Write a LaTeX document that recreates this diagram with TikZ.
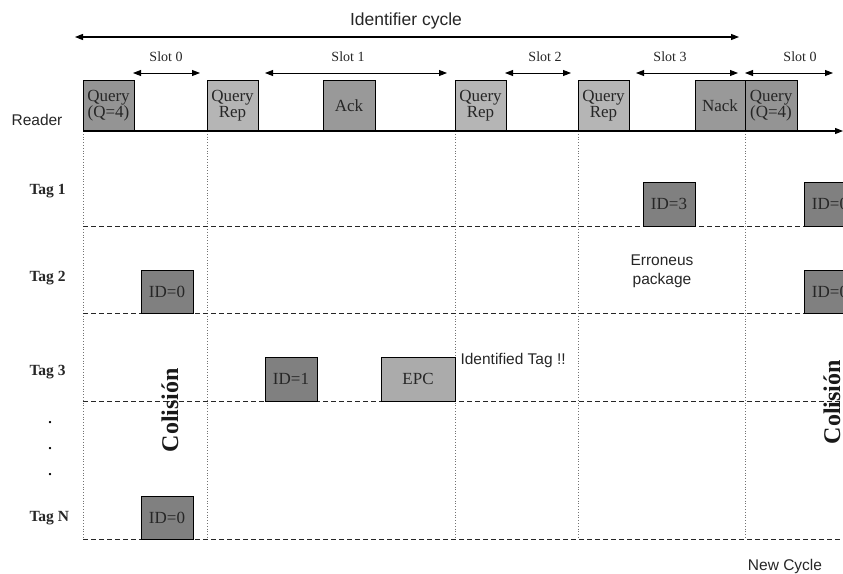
\documentclass[tikz,border=0pt]{standalone}
\usepackage{fontspec}
\setmainfont{Liberation Serif}
\newfontfamily\arialf{Liberation Sans}
\usetikzlibrary{arrows.meta}
\begin{document}
\begin{tikzpicture}[x=1pt,y=-1pt,
  tip/.style={-{Triangle[length=8pt,width=6pt]}},
  dtip/.style={{Triangle[length=8pt,width=6pt]}-{Triangle[length=8pt,width=6pt]}, line width=0.9pt},
  msgbox/.style={draw, line width=0.9pt, inner sep=0pt, align=center, text=black!85, font=\fontsize{17}{16}\selectfont},
  dark/.style={msgbox, fill=black!42},
  light/.style={msgbox, fill=black!29},
  tex/.style={msgbox, fill=black!40},
  idbox/.style={msgbox, fill=black!50, minimum width=52pt, minimum height=44pt},
  sans/.style={text=black!85, font=\arialf\fontsize{15.5}{19}\selectfont},
  slotlab/.style={text=black!85, font=\fontsize{14}{14}\selectfont},
  taglab/.style={text=black!85, font=\bfseries\fontsize{15.5}{16}\selectfont},
  coll/.style={text=black!90, font=\bfseries\fontsize{24}{24}\selectfont, rotate=90},
  vgrid/.style={draw=black!55, dotted, line width=0.8pt},
  hgrid/.style={draw=black!85, dash pattern=on 5pt off 3pt, line width=0.9pt}
]
\useasboundingbox (0,0) rectangle (843,573);

% grid
\foreach \x/\n in {83/a,207/b,455/c,578/d,745/e}{
  \coordinate (vt\n) at (\x,131);
  \coordinate (vb\n) at (\x,539);
  \draw[vgrid] (vt\n) -- (vb\n);
}
\foreach \y/\n in {226/1,313/2,401/3,539/4}{
  \coordinate (hl\n) at (83,\y);
  \coordinate (hr\n) at (843,\y);
  \draw[hgrid] (hl\n) -- (hr\n);
}

% identifier cycle
\node[sans, font=\arialf\fontsize{17.5}{20}\selectfont] (idc) at (406,21) {Identifier cycle};
\coordinate (icl) at (75,37);
\coordinate (icr) at (739,37);
\draw[dtip, line width=1.1pt] (icl) -- (icr);

% slot arrows
\foreach \a/\b/\t/\lx/\n in {133/200/Slot 0/166/s0,265/447/Slot 1/348/s1,505/571/Slot 2/545/s2,636/738/Slot 3/670/s3,745/833/Slot 0/800/s4}{
  \coordinate (\n l) at (\a,73);
  \coordinate (\n r) at (\b,73);
  \draw[dtip] (\n l) -- (\n r);
  \node[slotlab] (\n t) at (\lx,57) {\t};
}

% reader row
\node[sans] (reader) at (37,120) {Reader};
\node[dark, minimum width=51pt, minimum height=51pt] (q0) at (108.5,105.5) {Query\\(Q=4)};
\node[light, minimum width=51pt, minimum height=51pt] (qr1) at (232.5,105.5) {Query\\Rep};
\node[tex, minimum width=52pt, minimum height=51pt] (ack) at (349,105.5) {Ack};
\node[light, minimum width=51pt, minimum height=51pt] (qr2) at (480.5,105.5) {Query\\Rep};
\node[light, minimum width=51pt, minimum height=51pt] (qr3) at (603.5,105.5) {Query\\Rep};
\node[tex, minimum width=50pt, minimum height=51pt] (nack) at (720,105.5) {Nack};
\node[dark, minimum width=52pt, minimum height=51pt] (q1) at (771,105.5) {Query\\(Q=4)};
\coordinate (bl) at (83,131);
\coordinate (br) at (843,131);
\draw[tip, line width=1.1pt] (bl) -- (br);

% tag labels
\node[taglab, anchor=west] (t1) at (26,191) {Tag 1};
\node[taglab, anchor=west] (t2) at (26,278) {Tag 2};
\node[taglab, anchor=west] (t3) at (26,372) {Tag 3};
\node[font=\bfseries\fontsize{14}{14}\selectfont] (d1) at (50,423) {.};
\node[font=\bfseries\fontsize{14}{14}\selectfont] (d2) at (50,449) {.};
\node[font=\bfseries\fontsize{14}{14}\selectfont] (d3) at (50,475) {.};
\node[taglab, anchor=west] (tn) at (26,518) {Tag N};

% tag replies
\node[idbox, minimum height=43pt] (id2) at (167,291.5) {ID=0};
\node[idbox, minimum height=43pt] (idn) at (167,517.5) {ID=0};
\node[idbox] (id1) at (291,379) {ID=1};
\node[light, fill=black!33, minimum width=74pt, minimum height=44pt] (epc) at (418,379) {EPC};
\node[idbox] (id3) at (669,204) {ID=3};
\node[idbox] (id0a) at (830,204) {ID=0};
\node[idbox, minimum height=43pt] (id0b) at (830,291.5) {ID=0};

% annotations
\node[coll] (col1) at (170,410) {Colisión};
\node[coll] (col2) at (832,402) {Colisión};
\node[sans, anchor=west] (ident) at (457,360) {Identified Tag !!};
\node[sans, align=center] (err) at (662,271) {Erroneus\\package};
\node[sans] (newc) at (785,566) {New Cycle};
\end{tikzpicture}
\end{document}
